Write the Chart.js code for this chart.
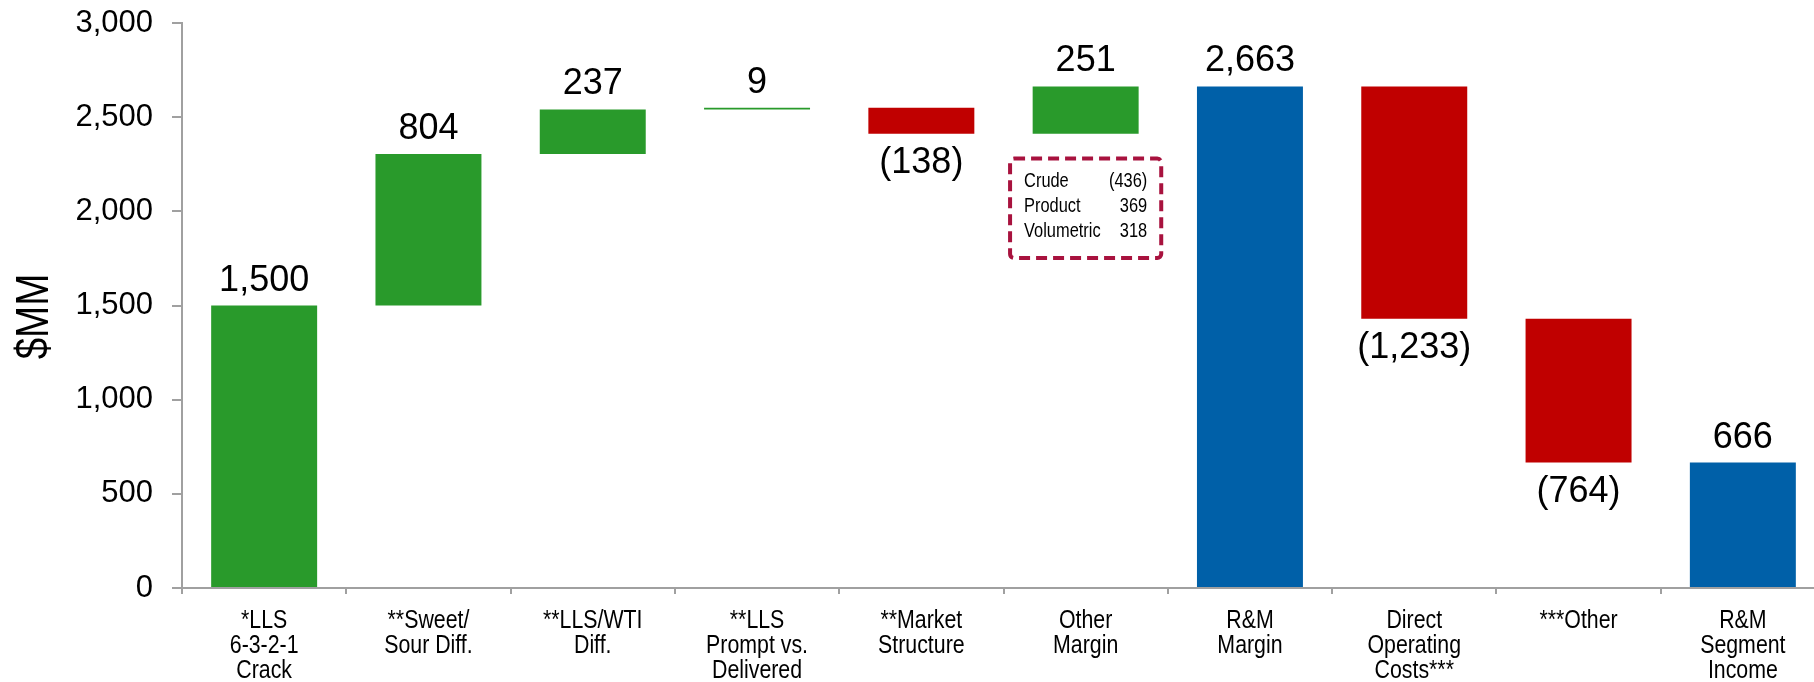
<!DOCTYPE html>
<html>
<head>
<meta charset="utf-8">
<script src="https://cdn.jsdelivr.net/npm/chart.js@4.4.1/dist/chart.umd.min.js"></script>
<style>
    html, body { margin: 0; padding: 0; overflow: hidden; background: #fff; }
    #wrap { width: 1840px; height: 682px; }
</style>
</head>
<body>
<div id="wrap"><canvas id="myChart" width="1840" height="682"></canvas></div>
<script>
// Categories (multi-line labels under the x-axis)
const categories = [
    ['*LLS', '6-3-2-1', 'Crack'],
    ['**Sweet/', 'Sour Diff.'],
    ['**LLS/WTI', 'Diff.'],
    ['**LLS', 'Prompt vs.', 'Delivered'],
    ['**Market', 'Structure'],
    ['Other', 'Margin'],
    ['R&M', 'Margin'],
    ['Direct', 'Operating', 'Costs***'],
    ['***Other'],
    ['R&M', 'Segment', 'Income']
];
// Change per step ($MM); totals are full bars from zero
const changes = [1500, 804, 237, 9, -138, 251, 2663, -1233, -764, 666];
const isTotal = [false, false, false, false, false, false, true, false, false, true];
const yTicks = [0, 500, 1000, 1500, 2000, 2500, 3000];

// Other margin breakdown box
const boxLabels = ['Crude', 'Product', 'Volumetric'];
const boxValues = ['(436)', '369', '318'];

const GREEN = '#299A2B';
const RED = '#C00000';
const BLUE = '#0060A8';
const AXIS = '#A0A0A0';
const SANS = "'Liberation Sans', Arial, sans-serif";
const NARROW_SCALE = 0.82; // squeeze Liberation Sans to look like Arial Narrow

// Build floating bars from the changes
let running = 0;
const floating = [];
const colors = [];
changes.forEach((c, i) => {
    if (isTotal[i]) {
        floating.push([0, c]);
        running = c;
        colors.push(BLUE);
    } else {
        floating.push([running, running + c]);
        running += c;
        colors.push(c >= 0 ? GREEN : RED);
    }
});

function fmt(v) {
    const s = Math.abs(v).toLocaleString('en-US');
    return v < 0 ? '(' + s + ')' : s;
}

// narrow text helper
function narrowText(ctx, text, x, y, align, angle) {
    ctx.save();
    ctx.translate(x, y);
    if (angle) ctx.rotate(angle);
    ctx.scale(NARROW_SCALE, 1);
    ctx.textAlign = align;
    ctx.fillText(text, 0, 0);
    ctx.restore();
}

// Value labels above / below each bar
const valueLabels = {
    id: 'valueLabels',
    afterDatasetsDraw(chart) {
        const ctx = chart.ctx;
        const meta = chart.getDatasetMeta(0);
        ctx.save();
        ctx.font = '36px ' + SANS;
        ctx.fillStyle = '#000';
        ctx.textAlign = 'center';
        ctx.textBaseline = 'alphabetic';
        meta.data.forEach((bar, i) => {
            const top = Math.min(bar.y, bar.base);
            const bottom = Math.max(bar.y, bar.base);
            if (changes[i] >= 0) {
                ctx.fillText(fmt(changes[i]), bar.x, top - 15);
            } else {
                ctx.fillText(fmt(changes[i]), bar.x, bottom + 39);
            }
        });
        ctx.restore();
    }
};

// Category labels + y title in a narrow face
const axisText = {
    id: 'axisText',
    afterDraw(chart) {
        const ctx = chart.ctx;
        const xs = chart.scales.x;
        const ys = chart.scales.y;
        ctx.save();
        ctx.fillStyle = '#000';
        ctx.textBaseline = 'alphabetic';
        ctx.font = '26px ' + SANS;
        categories.forEach((lines, i) => {
            const x = xs.getPixelForValue(i);
            lines.forEach((line, j) => {
                narrowText(ctx, line, x, xs.top + 40 + j * 25, 'center');
            });
        });
        ctx.font = '47px ' + SANS;
        ctx.textBaseline = 'middle';
        narrowText(ctx, '$MM', 35, (ys.top + ys.bottom) / 2 + 11, 'center', -Math.PI / 2);
        ctx.restore();
    }
};

// Dashed breakdown box under "Other Margin"
const breakdownBox = {
    id: 'breakdownBox',
    afterDatasetsDraw(chart) {
        const ctx = chart.ctx;
        const xs = chart.scales.x;
        const ys = chart.scales.y;
        const catW = xs.width / categories.length;
        const cx = xs.getPixelForValue(5);
        const left = cx - 0.46 * catW;
        const right = cx + 0.46 * catW;
        const top = ys.getPixelForValue(2280);
        const bottom = ys.getPixelForValue(1752);
        ctx.save();
        ctx.strokeStyle = '#A8123E';
        ctx.lineWidth = 4;
        ctx.setLineDash([11, 6]);
        ctx.beginPath();
        ctx.roundRect(left, top, right - left, bottom - top, 4);
        ctx.stroke();
        ctx.setLineDash([]);
        ctx.font = '20px ' + SANS;
        ctx.fillStyle = '#000';
        ctx.textBaseline = 'alphabetic';
        boxLabels.forEach((lab, i) => {
            const y = top + 28 + i * 25;
            narrowText(ctx, lab, left + 14, y, 'left');
            narrowText(ctx, boxValues[i], right - 14, y, 'right');
        });
        ctx.restore();
    }
};

const ctx = document.getElementById('myChart').getContext('2d');
const myChart = new Chart(ctx, {
    type: 'bar',
    data: {
        labels: categories,
        datasets: [{
            data: floating,
            backgroundColor: colors,
            borderWidth: 0,
            barPercentage: 0.645,
            categoryPercentage: 1.0
        }]
    },
    options: {
        responsive: false,
        animation: false,
        layout: { padding: { top: 23, right: 15, bottom: 0, left: 0 } },
        plugins: {
            legend: { display: false },
            tooltip: { enabled: false }
        },
        scales: {
            x: {
                offset: true,
                grid: {
                    offset: true,
                    drawOnChartArea: false,
                    drawTicks: true,
                    tickLength: 6,
                    color: AXIS,
                    lineWidth: 2
                },
                border: { display: true, color: AXIS, width: 2 },
                ticks: { display: false },
                afterFit(scale) { scale.height = 94; }
            },
            y: {
                min: 0,
                max: 3000,
                afterBuildTicks(scale) { scale.ticks = yTicks.map(v => ({ value: v })); },
                grid: {
                    drawOnChartArea: false,
                    drawTicks: true,
                    tickLength: 10,
                    color: AXIS,
                    lineWidth: 2
                },
                border: { display: true, color: AXIS, width: 2 },
                ticks: {
                    color: '#000',
                    padding: 19,
                    font: { family: SANS, size: 31 },
                    callback: v => v.toLocaleString('en-US')
                },
                afterFit(scale) {
                    scale.width = 182;
                    scale.paddingTop = 0;
                    scale.paddingBottom = 0;
                }
            }
        }
    },
    plugins: [valueLabels, breakdownBox, axisText]
});
</script>
</body>
</html>
